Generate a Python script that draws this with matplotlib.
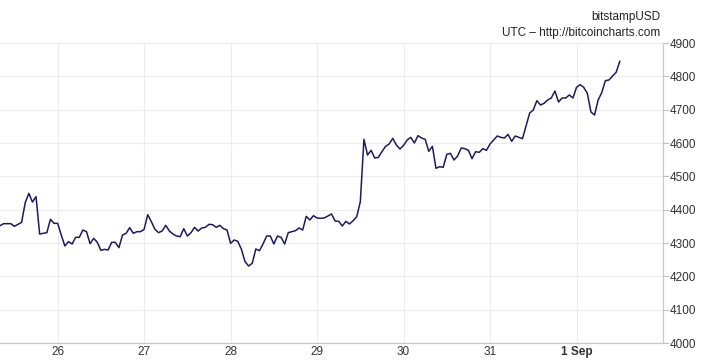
"""bitstampUSD hourly price, late Aug 2017 (bitcoincharts style)."""

import matplotlib

matplotlib.use("Agg")

import matplotlib.pyplot as plt
import pandas as pd

plt.rcParams["font.family"] = ["Liberation Sans", "DejaVu Sans"]

start_time = "2017-08-25 08:00"
prices = [
    4352, 4358, 4358, 4358, 4350, 4356, 4362, 4421, 4449, 4423, 4439, 4327,
    4329, 4331, 4371, 4359, 4359, 4324, 4291, 4304, 4297, 4317, 4317, 4339,
    4334, 4298, 4314, 4302, 4278, 4281, 4279, 4302, 4302, 4286,
    4324, 4329, 4346, 4329, 4334, 4334, 4341, 4385, 4364, 4341, 4331, 4336,
    4353, 4336, 4327, 4321, 4319, 4343, 4321, 4331, 4347, 4336, 4345, 4347,
    4356, 4355, 4347, 4353, 4343, 4339, 4299, 4309, 4305,
    4281, 4244, 4231, 4239, 4282, 4277, 4297, 4321, 4321, 4297, 4321, 4317,
    4297, 4331, 4334, 4337, 4345, 4339, 4380, 4369, 4382, 4375, 4374, 4375,
    4381, 4387, 4366, 4365, 4351, 4365, 4357, 4367, 4379, 4424,
    4611, 4564, 4578, 4555, 4557, 4574, 4590, 4597, 4614, 4594, 4582, 4593,
    4609, 4617, 4600, 4622, 4615, 4611, 4575, 4590, 4524, 4529, 4527, 4566,
    4569, 4549, 4561, 4585, 4583, 4578, 4553, 4574, 4572, 4583, 4578, 4597,
    4609, 4621, 4617, 4615, 4626, 4605, 4621, 4617, 4613, 4651, 4690, 4699,
    4727, 4714, 4719, 4729, 4735, 4756, 4723, 4735, 4735, 4744, 4735, 4767,
    4775, 4767, 4749, 4693, 4684, 4729, 4751, 4787, 4789, 4801, 4812, 4845,
]
times = pd.date_range(start_time, periods=len(prices), freq="h")

day_ticks = pd.date_range("2017-08-26", "2017-09-01", freq="D")
day_labels = ["26", "27", "28", "29", "30", "31", "1 Sep"]
price_ticks = list(range(4000, 5000, 100))

W, H = 707, 362
fig = plt.figure(figsize=(W / 100, H / 100), dpi=100)
ax = fig.add_axes([0, 1 - 343 / H, 663 / W, 300 / H])

ax.plot(times, prices, color="#1c1c5c", linewidth=1.1, zorder=3)

ax.set_xlim(pd.Timestamp(start_time), pd.Timestamp("2017-09-02"))
ax.set_ylim(4000, 4900)
ax.set_xticks(day_ticks)
ax.set_xticklabels(day_labels)
ax.get_xticklabels()[-1].set_fontweight("bold")
ax.set_yticks(price_ticks)

ax.yaxis.tick_right()
ax.tick_params(axis="y", length=4, width=0.8, color="#c0c0c0", pad=1,
               labelsize=8.5, labelcolor="#333333")
ax.tick_params(axis="x", length=0, pad=2, labelsize=8.5, labelcolor="#333333")

ax.grid(True, color="#ececec", linewidth=0.8, zorder=0)
for side in ("top", "left"):
    ax.spines[side].set_visible(False)
for side in ("right", "bottom"):
    ax.spines[side].set_color("#c8c8c8")
    ax.spines[side].set_linewidth(0.9)

fig.text(660 / W, 1 - 17 / H, "bitstampUSD", ha="right", va="center",
         fontsize=8.5, color="#222222")
fig.text(660 / W, 1 - 33 / H, "UTC \u2013 http://bitcoincharts.com",
         ha="right", va="center", fontsize=8.5, color="#222222")

fig.savefig("out.png", dpi=100)
plt.close(fig)
